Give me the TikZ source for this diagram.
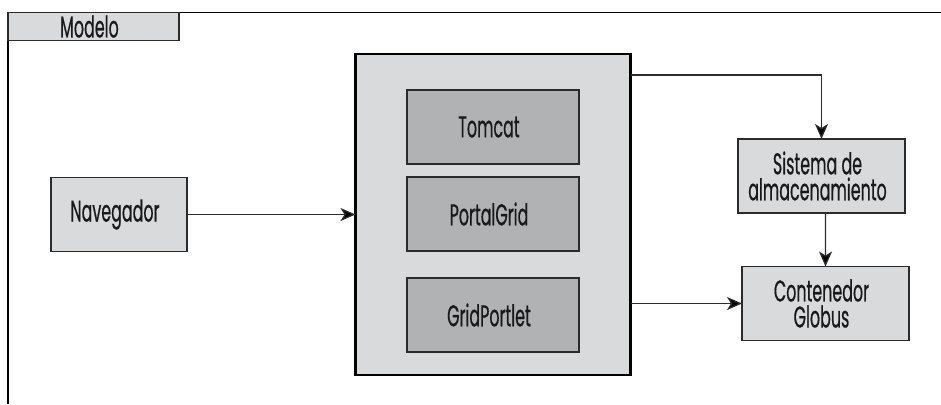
\documentclass[tikz,border=0pt]{standalone}
\usepackage{fontspec}
\setmainfont[FakeStretch=0.53,FakeBold=0.5]{Poppins}
\usetikzlibrary{arrows.meta}
\definecolor{lightfill}{HTML}{D9DADC}
\definecolor{darkfill}{HTML}{B1B2B4}
\definecolor{inkline}{HTML}{2B2B2B}
\newcommand{\lft}[1]{\raisebox{-1.5bp}{\mbox{#1\kern8bp}}}
\tikzset{
  x=1bp,y=-1bp,
  boxstyle/.style={draw=inkline,line width=1.1bp,fill=lightfill,text=black!90,outer sep=0pt,inner sep=0pt,align=center,
    font=\fontsize{30bp}{26bp}\selectfont},
  innerbox/.style={boxstyle,fill=darkfill,minimum width=172bp,minimum height=74bp},
  mainbox/.style={boxstyle,draw=black,line width=2.4bp,minimum width=275bp,minimum height=321bp},
  conn/.style={draw=inkline,line width=1.3bp,-{Stealth[length=15bp,width=13bp,inset=4bp,fill=black]}},
  framestyle/.style={draw=black,line width=1.1bp}
}
\begin{document}
\begin{tikzpicture}
\useasboundingbox (0,0) rectangle (941,404);
\coordinate (ftr) at (941,12.5);
\coordinate (ftl) at (8,12.5);
\coordinate (fbl) at (8,404);
\draw[framestyle] (ftr) -- (ftl) -- (fbl);
\node[boxstyle,minimum width=171bp,minimum height=28.5bp] (tab) at (93.5,26.5) {\lft{Modelo}};
\node[boxstyle,minimum width=136bp,minimum height=74bp] (nav) at (119,214.5) {\lft{Navegador}};
\node[mainbox] (main) at (493,214.5) {};
\node[innerbox] (tomcat) at (493,127) {\lft{Tomcat}};
\node[innerbox] (portal) at (493,214) {\lft{PortalGrid}};
\node[innerbox] (grid) at (493,315) {\lft{GridPortlet}};
\node[boxstyle,minimum width=167bp,minimum height=74bp] (sis) at (821.5,176) {\lft{Sistema de}\\\lft{almacenamiento}};
\node[boxstyle,minimum width=167bp,minimum height=74bp] (cont) at (825.5,303.5) {\lft{Contenedor}\\\lft{Globus}};
\coordinate (mainout) at ([yshift=-21bp]main.north east);
\draw[conn] (nav) -- (main);
\draw[conn] (mainout) -| (sis.north);
\draw[conn] ([xshift=4bp]sis.south) -- (cont.north);
\draw[conn] (main.east |- cont.west) -- (cont.west);
\end{tikzpicture}
\end{document}
